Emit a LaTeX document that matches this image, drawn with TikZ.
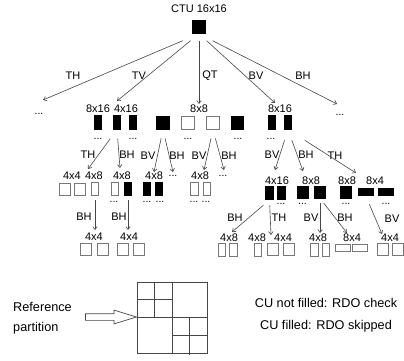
\documentclass[tikz,border=0pt]{standalone}
\usepackage{fontspec}
\setmainfont{Liberation Sans}
\usepackage{tikz}
\usetikzlibrary{arrows.meta,shapes.arrows}
\definecolor{edgegray}{RGB}{70,70,70}
\definecolor{boxgray}{RGB}{120,120,120}

\tikzset{
  lbl/.style={inner sep=0pt, font=\fontsize{11}{12}\selectfont},
  more/.style={inner sep=0pt, font=\fontsize{10.5}{12}\selectfont},
  bigtxt/.style={inner sep=0pt, font=\fontsize{12.7}{20}\selectfont},
  cu/.style={draw=boxgray, fill=white, line width=0.8pt, inner sep=0pt},
  cufill/.style={draw=black, fill=black, line width=0.6pt, inner sep=0pt},
  bigsq/.style={minimum size=12.5pt},
  sq/.style={minimum width=11pt, minimum height=12pt},
  tallcu/.style={minimum width=7.5pt, minimum height=13.5pt},
  widecu/.style={minimum width=15pt, minimum height=7pt},
  splitarrow/.style={draw=edgegray, line width=0.6pt, -{Straight Barb[length=3pt,width=4.5pt]}},
  partline/.style={draw=edgegray, line width=0.8pt}
}

\begin{document}
\begin{tikzpicture}[x=1pt,y=-1pt]
\useasboundingbox (0,0) rectangle (404,361);

\node[lbl] (ctulbl) at (199,9) {CTU 16x16};
\node[cufill, minimum size=13pt] (ctu) at (199,27) {};

\node[lbl] (s0a) at (73,76) {TH};
\node[lbl] (s0b) at (139,76) {TV};
\node[lbl] (s0c) at (210,76) {QT};
\node[lbl] (s0d) at (256,76) {BV};
\node[lbl] (s0e) at (303,76) {BH};

% row 1
\node[more] (r1d0) at (39,114) {...};
\node[more] (r1d9) at (340,115) {...};
\node[lbl] (r1t1) at (98,109) {8x16};
\node[lbl] (r1t2) at (126,109) {4x16};
\node[lbl] (r1t3) at (199,109) {8x8};
\node[lbl] (r1t4) at (280,109) {8x16};

\node[cufill, tallcu] (r1a) at (98,122.5) {};
\node[cufill, tallcu] (r1b) at (117,122.5) {};
\node[cufill, tallcu] (r1c) at (133,122.5) {};
\node[cufill, bigsq] (r1d) at (163,123) {};
\node[cu, bigsq] (r1e) at (188,123) {};
\node[cu, bigsq] (r1f) at (213,123) {};
\node[cufill, bigsq] (r1g) at (237.5,123) {};
\node[cufill, tallcu] (r1h) at (272,122.5) {};
\node[cufill, tallcu] (r1i) at (288,122.5) {};

\node[more] (r1m1) at (98,139) {...};
\node[more] (r1m2) at (133,139) {...};
\node[more] (r1m3) at (188,139) {...};
\node[more] (r1m4) at (238,139) {...};
\node[more] (r1m5) at (271,139) {...};

\draw[splitarrow, shorten <=17.7pt] (ctu.south) -- ([shift={(4,-14)}]r1d0.center);
\draw[splitarrow, shorten <=10.9pt] (ctu.south) -- ([shift={(-9,-8)}]r1t2.center);
\draw[splitarrow, shorten <=7pt] (ctu.south) -- ([shift={(0,-5)}]r1t3.center);
\draw[splitarrow, shorten <=10.3pt] (ctu.south) -- ([shift={(-5,-6)}]r1t4.center);
\draw[splitarrow, shorten <=15.3pt] (ctu.south) -- ([shift={(-3,-11)}]r1d9.center);

% row 2
\node[lbl] (r2t1) at (72,176) {4x4};
\node[lbl] (r2t2) at (94,176) {4x8};
\node[lbl] (r2t3) at (122,176) {4x8};
\node[lbl] (r2t4) at (154,176) {4x8};
\node[more] (r2n1) at (173,176) {...};
\node[lbl] (r2t5) at (200,176) {4x8};
\node[more] (r2n2) at (223,176) {...};
\node[lbl] (r2t6) at (277,181) {4x16};
\node[lbl] (r2t7) at (311,181) {8x8};
\node[lbl] (r2t8) at (347,181) {8x8};
\node[lbl] (r2t9) at (375,181) {8x4};

\node[cu, sq] (r2a) at (64.5,189) {};
\node[cu, sq] (r2b) at (79.5,189) {};
\node[cu, tallcu] (r2c) at (95,189) {};
\node[cu, tallcu] (r2d) at (115,189) {};
\node[cufill, tallcu] (r2e) at (128,189) {};
\node[cufill, tallcu] (r2f) at (147,189) {};
\node[cufill, tallcu] (r2g) at (159,189) {};
\node[cu, tallcu] (r2h) at (194.5,189) {};
\node[cu, tallcu] (r2i) at (207,189) {};
\node[cufill, tallcu] (r2j) at (269.5,193) {};
\node[cufill, tallcu] (r2k) at (281.5,193) {};
\node[cufill, sq] (r2l) at (302.5,192) {};
\node[cufill, sq] (r2m) at (320,192) {};
\node[cufill, sq] (r2n) at (346,192) {};
\node[cufill, widecu] (r2o) at (365.5,191.5) {};
\node[cufill, widecu] (r2p) at (385.5,191.5) {};

\node[more] (r2m1) at (114,202) {...};
\node[more] (r2m2) at (147,202) {...};
\node[more] (r2m3) at (160,202) {...};
\node[more] (r2m4) at (194,202) {...};
\node[more] (r2m5) at (206,202) {...};
\node[more] (r2m6) at (281,204) {...};
\node[more] (r2m7) at (302.5,204) {...};
\node[more] (r2m8) at (346,204) {...};
\node[more] (r2m9) at (386,204) {...};

\node[lbl] (s1a) at (88,155) {TH};
\node[lbl] (s1b) at (127,155) {BH};
\node[lbl] (s1c) at (148,156) {BV};
\node[lbl] (s1d) at (177,156) {BH};
\node[lbl] (s1e) at (199,156) {BV};
\node[lbl] (s1f) at (229,156) {BH};
\node[lbl] (s1g) at (272,155) {BV};
\node[lbl] (s1h) at (306,155) {BH};
\node[lbl] (s1i) at (335,156) {TH};

\draw[splitarrow, shorten <=11.5pt] (r1b.south) -- ([shift={(-6,-7)}]r2t2.center);
\draw[splitarrow, shorten <=9.3pt] (r1b.south) -- ([shift={(-2,-8)}]r2t3.center);
\draw[splitarrow, shorten <=8.9pt] (r1d.south) -- ([shift={(0,-4)}]r2t4.center);
\draw[splitarrow, shorten <=9pt] (r1d.south) -- ([shift={(0,-4)}]r2n1.center);
\draw[splitarrow, shorten <=9pt] (r1f.south) -- ([shift={(4,-6)}]r2t5.center);
\draw[splitarrow, shorten <=9pt] (r1f.south) -- ([shift={(1,-6)}]r2n2.center);
\draw[splitarrow, shorten <=11.3pt] (r1i.south) -- ([shift={(-2,-11)}]r2t6.center);
\draw[splitarrow, shorten <=11.4pt] (r1i.south) -- ([shift={(-8,-10)}]r2t7.center);
\draw[splitarrow, shorten <=19.9pt] (r1i.south) -- ([shift={(9,-8)}]r2t8.center);

% row 3
\node[lbl] (r3t1) at (94,237) {4x4};
\node[lbl] (r3t2) at (129,237) {4x4};
\node[lbl] (r3t3) at (229,238) {4x8};
\node[lbl] (r3t4) at (257,238) {4x8};
\node[lbl] (r3t5) at (283,238) {4x4};
\node[lbl] (r3t6) at (318,238) {4x8};
\node[lbl] (r3t7) at (352,238) {8x4};
\node[lbl] (r3t8) at (390,238) {4x4};

\node[cu, sq] (r3a) at (86,249) {};
\node[cu, sq] (r3b) at (102.5,249) {};
\node[cu, sq] (r3c) at (122.5,249) {};
\node[cu, sq] (r3d) at (139,249) {};
\node[cu, tallcu] (r3e) at (222,250) {};
\node[cu, tallcu] (r3f) at (233.5,250) {};
\node[cu, tallcu] (r3g) at (258,250) {};
\node[cu, sq] (r3h) at (273,249.5) {};
\node[cu, sq] (r3i) at (289,249.5) {};
\node[cu, tallcu] (r3j) at (314.5,250) {};
\node[cu, tallcu] (r3k) at (326,250) {};
\node[cu, widecu] (r3l) at (342.5,247.5) {};
\node[cu, widecu] (r3m) at (360,247.5) {};
\node[cu, sq] (r3n) at (382.5,249.5) {};
\node[cu, sq] (r3o) at (397.5,249.5) {};

\node[lbl] (s2a) at (84,217) {BH};
\node[lbl] (s2b) at (119,217) {BH};
\node[lbl] (s2c) at (235,218) {BH};
\node[lbl] (s2d) at (279,218) {TH};
\node[lbl] (s2e) at (311,218) {BV};
\node[lbl] (s2f) at (345,218) {BH};
\node[lbl] (s2g) at (392,219) {BV};

\draw[splitarrow, shorten <=4.3pt] (r2c.south) -- ([shift={(1,-7)}]r3t1.center);
\draw[splitarrow, shorten <=4.3pt] (r2e.south) -- ([shift={(-1,-7)}]r3t2.center);
\draw[splitarrow, shorten <=8pt] (r2j.south) -- ([shift={(3,-6)}]r3t3.center);
\draw[splitarrow, shorten <=5.3pt] (r2j.south) -- ([shift={(-12,-3)}]r3t5.center);
\draw[splitarrow, shorten <=5pt] (r2m.south) -- ([shift={(2,-5)}]r3t6.center);
\draw[splitarrow, shorten <=6pt] (r2m.south) -- ([shift={(-5,-5)}]r3t7.center);
\draw[splitarrow, shorten <=9.8pt] (r2o.south) -- ([shift={(-8,-4)}]r3t8.center);

% reference partition
\node[bigtxt, align=left, anchor=west] (reftxt) at (13,318.5) {Reference\\partition};
\node[single arrow, draw=edgegray, fill=white, line width=0.7pt, inner sep=3pt,
      single arrow head extend=3.5pt, single arrow tip angle=34,
      minimum height=51pt] (refarrow) at (105.5,317) {};
\draw[partline] (137,282) rectangle (207,353);
\draw[partline] (172,282) -- (172,353) (137,317) -- (207,317);
\draw[partline] (154.5,282) -- (154.5,317) (137,299.5) -- (172,299.5);
\draw[partline] (189.5,317) -- (189.5,355) (172,335.5) -- (207,335.5);

\node[bigtxt, align=center, font=\fontsize{12.7}{22}\selectfont] (legend) at (326,315) {CU not filled: RDO check\\CU filled: RDO skipped};
\end{tikzpicture}
\end{document}
